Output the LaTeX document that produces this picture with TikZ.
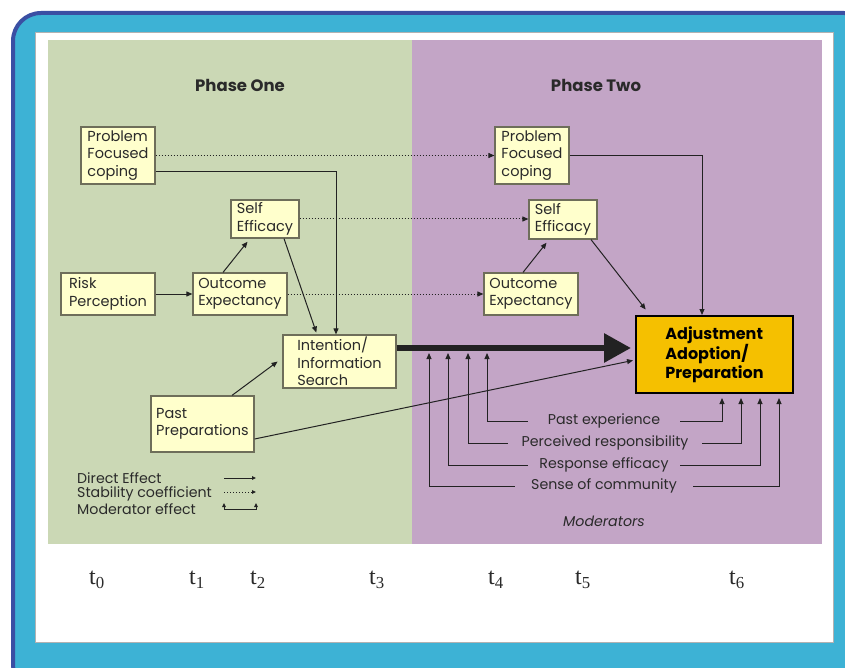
\documentclass[tikz,border=0pt]{standalone}
\usepackage{fontspec}
\setmainfont{Poppins}
\newfontfamily\timesfont{Liberation Serif}
\usepackage{xcolor,tikz}
\usetikzlibrary{arrows.meta,calc}
\definecolor{phFrameBlue}{HTML}{3A4FA3}
\definecolor{phFrameCyan}{HTML}{3DB2D5}
\definecolor{phGreenFill}{HTML}{CBD8B5}
\definecolor{phPurpleFill}{HTML}{C3A5C6}
\definecolor{phBoxFill}{HTML}{FFFFCC}
\definecolor{phBoxLine}{HTML}{6E6E5A}
\definecolor{phGoldFill}{HTML}{F5C000}
\definecolor{phInk}{HTML}{222222}
\definecolor{phText}{HTML}{2A2A2A}
\tikzset{
  factor box/.style={
    draw=phBoxLine, fill=phBoxFill, line width=1.2pt,
    align=left, inner sep=0pt, text=phText,
    font=\fontsize{14.5}{17.5}\selectfont,
  },
  direct arrow/.style={
    -{Triangle[length=6pt, width=5pt]},
    line width=1pt, color=phInk,
  },
  stability arrow/.style={direct arrow, dotted},
  main arrow/.style={
    -{Triangle[length=27pt, width=28pt]},
    line width=6pt, color=phInk, shorten >=4pt,
  },
  moderator label/.style={
    inner sep=0pt, text=phText,
    font=\fontsize{14.2}{15}\selectfont,
  },
  time label/.style={
    text=phText, font=\timesfont\fontsize{24}{26}\selectfont,
  },
}

\begin{document}
\begin{tikzpicture}[x=1pt, y=-1pt]

% --- FRAME ---
\begin{scope}
  \clip (0,0) rectangle (845,668);
  \fill[white] (0,0) rectangle (845,668);
  \draw[line width=4pt, draw=phFrameBlue, fill=phFrameCyan,
        rounded corners=28pt] (13,13) rectangle (872,692);
\end{scope}
\useasboundingbox (0,0) rectangle (845,668);
\draw[fill=white, draw=gray!60, line width=0.6pt] (35,32) rectangle (833,642);

% --- PHASE PANELS ---
\fill[phGreenFill] (48,40) rectangle (412,544);
\fill[phPurpleFill] (412,40) rectangle (822,544);
\node[font=\fontsize{16.5}{18}\selectfont\bfseries, text=phText]
  (phaseOne) at (240,85) {Phase One};
\node[font=\fontsize{16.5}{18}\selectfont\bfseries, text=phText]
  (phaseTwo) at (596,85) {Phase Two};

% --- PHASE ONE BOXES ---
\node[factor box, minimum width=74pt, minimum height=57pt]
  (pfcA) at (118,155.5) {Problem\\Focused\\coping};
\node[factor box, minimum width=68pt, minimum height=38pt]
  (seA) at (265,219) {Self\\Efficacy};
\node[factor box, minimum width=94pt, minimum height=42pt]
  (risk) at (108,294) {Risk\\Perception};
\node[factor box, minimum width=94pt, minimum height=42pt]
  (oeA) at (240,294) {Outcome\\Expectancy};
\node[factor box, minimum width=113pt, minimum height=53pt]
  (intent) at (339.5,361.5) {Intention/\\Information\\Search};
\node[factor box, minimum width=103pt, minimum height=56pt]
  (pastPrep) at (202.5,424) {Past\\Preparations};

% --- PHASE TWO BOXES ---
\node[factor box, minimum width=74pt, minimum height=57pt]
  (pfcB) at (532,155.5) {Problem\\Focused\\coping};
\node[factor box, minimum width=68pt, minimum height=39pt]
  (seB) at (563,219.5) {Self\\Efficacy};
\node[factor box, minimum width=94pt, minimum height=42pt]
  (oeB) at (531,294) {Outcome\\Expectancy};
\node[factor box, draw=black, fill=phGoldFill, line width=2pt,
      minimum width=157pt, minimum height=77pt,
      font=\fontsize{16}{18.5}\selectfont\bfseries, text=black]
  (adj) at (714.5,354.5) {Adjustment\\Adoption/\\Preparation};

% --- STABILITY ARROWS (dotted) ---
\draw[stability arrow] (pfcA.east) -- (pfcB.west);
\draw[stability arrow] (seA.east) -- (seA.east -| seB.west);
\draw[stability arrow] (oeA.east) -- (oeB.west);

% --- DIRECT EFFECTS, PHASE ONE ---
\draw[direct arrow] (risk.east) -- (oeA.west);
\draw[direct arrow, shorten >=4pt]
  ([xshift=-17pt]oeA.north) -- ([xshift=-15pt]seA.south);
\draw[direct arrow, shorten >=2pt]
  ([xshift=19pt]seA.south) -- ([xshift=-22.5pt]intent.north);
\draw[direct arrow]
  ([yshift=-16.5pt]pfcA.east) -| ([xshift=-3.5pt]intent.north);
\draw[direct arrow, shorten >=6pt]
  ([xshift=29.5pt]pastPrep.north) -- ([yshift=3.5pt]intent.west);

% --- DIRECT EFFECTS, PHASE TWO ---
\draw[direct arrow, shorten >=4pt]
  ([xshift=-8pt]oeB.north) -- ([xshift=-14pt]seB.south);
\draw[direct arrow, shorten >=7pt]
  ([xshift=28pt]seB.south) -- ([xshift=15pt]adj.north west);
\draw[direct arrow] (pfcB.east) -| ([xshift=-12.5pt]adj.north);
\draw[direct arrow, shorten >=2pt]
  ([yshift=-15pt]pastPrep.east) -- ([yshift=-5.5pt]adj.west);

% --- MAIN PATH ---
\draw[main arrow] ([yshift=13.5pt]intent.east) -- ([yshift=6.5pt]adj.west);

% --- MODERATORS ---
% tips just under the main path
\coordinate (modPastIn) at (487,353);
\coordinate (modRespIn) at (468,353);
\coordinate (modEffIn) at (448,353);
\coordinate (modCommIn) at (429,353);
\node[moderator label, minimum width=152pt]
  (modPast) at (604,421) {Past experience};
\node[moderator label, minimum width=194pt]
  (modResp) at (605,443) {Perceived responsibility};
\node[moderator label, minimum width=152pt]
  (modEff) at (604,465) {Response efficacy};
\node[moderator label, minimum width=178pt]
  (modComm) at (604,486) {Sense of community};
\draw[direct arrow] (modPast.west) -| (modPastIn);
\draw[direct arrow] (modResp.west) -| (modRespIn);
\draw[direct arrow] (modEff.west) -| (modEffIn);
\draw[direct arrow] (modComm.west) -| (modCommIn);
\draw[direct arrow, shorten >=4pt] (modPast.east) -| ([xshift=7.5pt]adj.south);
\draw[direct arrow, shorten >=4pt] (modResp.east) -| ([xshift=26.5pt]adj.south);
\draw[direct arrow, shorten >=4pt] (modEff.east) -| ([xshift=45.5pt]adj.south);
\draw[direct arrow, shorten >=4pt] (modComm.east) -| ([xshift=64.5pt]adj.south);
\node[moderator label, font=\fontsize{14.2}{15}\selectfont\itshape]
  (modTitle) at (604,521) {Moderators};

% --- LEGEND ---
\node[moderator label, anchor=west] (legDirect) at (77,478) {Direct Effect};
\node[moderator label, anchor=west] (legStab) at (77,494) {Stability coefficient};
\node[moderator label, anchor=west] (legMod) at (77,509) {Moderator effect};
\draw[direct arrow, -{Triangle[length=4pt, width=3.5pt]}] (224,478) -- (256,478);
\draw[stability arrow, -{Triangle[length=4pt, width=3.5pt]}] (224,492) -- (256,492);
\draw[direct arrow, {Triangle[length=4pt, width=3.5pt]}-{Triangle[length=4pt, width=3.5pt]}]
  (224,503) -- (224,509) -- (256,509) -- (256,503);

% --- TIME AXIS ---
\node[time label] (tZero) at (97,580) {t\textsubscript{0}};
\node[time label] (tOne) at (197,580) {t\textsubscript{1}};
\node[time label] (tTwo) at (258,580) {t\textsubscript{2}};
\node[time label] (tThree) at (377,580) {t\textsubscript{3}};
\node[time label] (tFour) at (496,580) {t\textsubscript{4}};
\node[time label] (tFive) at (583,580) {t\textsubscript{5}};
\node[time label] (tSix) at (737,580) {t\textsubscript{6}};

\end{tikzpicture}
\end{document}
